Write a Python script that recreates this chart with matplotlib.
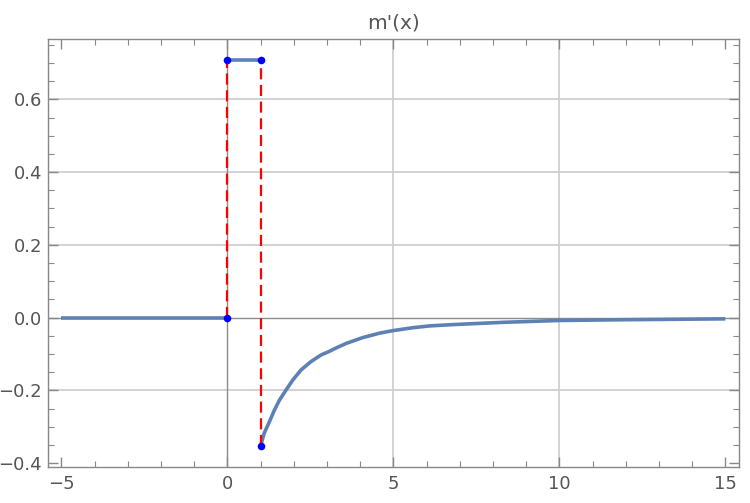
import matplotlib
matplotlib.use("Agg")
import matplotlib.pyplot as plt
from matplotlib.ticker import MultipleLocator, FuncFormatter

# piecewise data
left_x = [-5.0, 0.0]
left_y = [0.0, 0.0]
mid_x = [0.0, 1.0]
mid_y = [0.707, 0.707]
right_x = [1.0, 1.11, 1.27, 1.42, 1.57, 1.77, 1.97, 2.22, 2.52, 2.82, 3.07, 3.22,
           3.58, 4.08, 4.58, 4.98, 5.58, 6.08, 6.86, 8.34, 10.0, 11.86, 15.0]
right_y = [-0.354, -0.318, -0.286, -0.254, -0.227, -0.199, -0.172, -0.144, -0.121,
           -0.103, -0.093, -0.086, -0.071, -0.055, -0.043, -0.036, -0.028, -0.023,
           -0.019, -0.013, -0.008, -0.006, -0.0035]
pts_x = [0.0, 0.0, 1.0, 1.0]
pts_y = [0.0, 0.707, 0.707, -0.354]
jump_x = [0.0, 1.0]
jump_lo = [0.0, -0.354]
jump_hi = [0.707, 0.707]

fig = plt.figure(figsize=(7.5, 5.03), dpi=100)
ax = fig.add_axes([47.7/750, 1-466.7/503, (739.3-47.7)/750, (466.7-39.3)/503])
ax.set_xlim(-5.41, 15.42)
ax.set_ylim(-0.410, 0.765)

gridc = "#cfcfcf"
for gx in [5, 10]:
    ax.axvline(gx, color=gridc, lw=1.3, zorder=0)
for gy in [-0.2, 0.2, 0.4, 0.6]:
    ax.axhline(gy, color=gridc, lw=1.3, zorder=0)
ax.axhline(0, color="#8c8c8c", lw=1.0, zorder=1)
ax.axvline(0, color="#8c8c8c", lw=1.0, zorder=1)

lc = "#5E81B5"
ax.plot(left_x, left_y, color=lc, lw=2.6, solid_capstyle="butt", zorder=3)
ax.plot(mid_x, mid_y, color=lc, lw=2.6, solid_capstyle="butt", zorder=3)
ax.plot(right_x, right_y, color=lc, lw=2.6, solid_capstyle="butt",
        solid_joinstyle="round", zorder=3)
ax.vlines(jump_x, jump_lo, jump_hi, colors="red", linestyles=(0, (5, 2.5)), lw=1.6, zorder=4)
ax.scatter(pts_x, pts_y, s=30, color="blue", zorder=5, linewidths=0)

ax.xaxis.set_major_locator(MultipleLocator(5))
ax.xaxis.set_minor_locator(MultipleLocator(1))
ax.yaxis.set_major_locator(MultipleLocator(0.2))
ax.yaxis.set_minor_locator(MultipleLocator(0.05))
ax.yaxis.set_major_formatter(FuncFormatter(lambda v, p: ("%.1f" % v).replace("-", "\u2212")))

fc = "#888888"
for s in ax.spines.values():
    s.set_color(fc)
    s.set_linewidth(1.0)
ax.tick_params(which="both", direction="in", top=True, right=True, color=fc,
               labelcolor="#555555", labelsize=13)
ax.tick_params(which="major", length=7, width=1.0)
ax.tick_params(which="minor", length=4, width=0.8)
ax.tick_params(axis="x", pad=6)
ax.tick_params(axis="y", pad=4)

ax.set_title("m'(x)", color="#555555", fontsize=14.5, pad=8)

fig.savefig("out.png", dpi=100)
